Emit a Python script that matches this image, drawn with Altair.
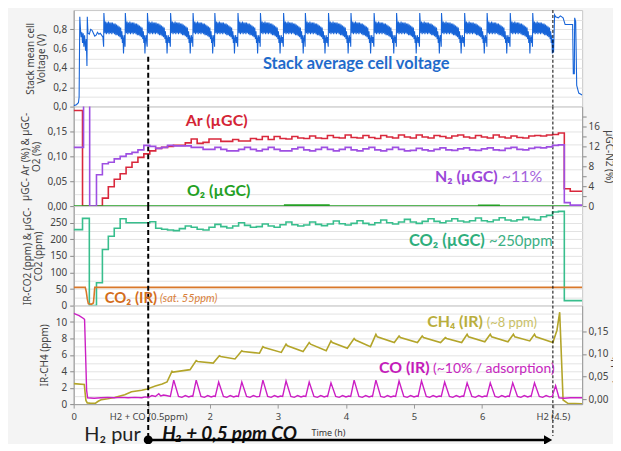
import altair as alt
import pandas as pd

T_MAX = 7.47
T_SWITCH = 1.095
T_BACK = 7.04
W = 511
H1, H2, H3, H4 = 97, 100, 100, 99

FONT = "Lato"
AXFONT = "Noto Sans"

# ---------------- data ----------------
# Stack mean cell voltage (V)
V_PRE_T = [0.0, 0.04, 0.07, 0.08, 0.09, 0.10, 0.11, 0.12, 0.13, 0.14, 0.15, 0.16, 0.175, 0.185,
           0.195, 0.20, 0.21, 0.23, 0.25, 0.27, 0.29, 0.31, 0.33, 0.35, 0.37, 0.39, 0.41, 0.43]
V_PRE_V = [0.01, 0.02, 0.04, 0.10, 0.93, 0.80, 0.72, 0.77, 0.66, 0.76, 0.62, 0.74, 0.58, 0.70,
           0.42, 0.93, 0.76, 0.75, 0.80, 0.79, 0.76, 0.73, 0.74, 0.77, 0.75, 0.76, 0.74, 0.72]
V_CYCLE_STARTS = [0.44, 0.755, 1.08, 1.42, 1.75, 2.07, 2.41, 2.74, 3.08, 3.40,
                  3.74, 4.07, 4.41, 4.74, 5.08, 5.40, 5.74, 6.07, 6.41, 6.74]
V_CYCLE_DT = [0.000, 0.004, 0.012, 0.020, 0.030, 0.040, 0.050, 0.060, 0.070, 0.080, 0.090,
              0.100, 0.110, 0.120, 0.130, 0.140, 0.150, 0.160, 0.170, 0.180, 0.190, 0.200,
              0.210, 0.220, 0.230, 0.240, 0.250, 0.260, 0.268, 0.276, 0.284, 0.292, 0.300,
              0.310, 0.318, 0.326]
V_CYCLE_V = [0.62, 0.97, 0.87, 0.76, 0.88, 0.75, 0.87, 0.76, 0.88, 0.75, 0.87,
             0.76, 0.87, 0.75, 0.87, 0.76, 0.86, 0.75, 0.86, 0.74, 0.85, 0.74,
             0.84, 0.73, 0.83, 0.72, 0.82, 0.70, 0.78, 0.66, 0.74, 0.55, 0.70,
             0.74, 0.66, 0.72]
V_END_T = [7.05, 7.065, 7.08, 7.12, 7.15, 7.19, 7.22, 7.33, 7.34, 7.355, 7.36, 7.375, 7.39, 7.42, 7.47]
V_END_V = [0.56, 0.95, 0.93, 0.92, 0.94, 0.92, 0.85, 0.85, 0.34, 0.34, 0.92, 0.88, 0.22, 0.14, 0.12]

# micro-GC samples (one every ~5 min)
GC_T0 = 0.335
GC_DT = 0.087
AR_PRE_T = [0.0, 0.13]
AR_PRE_V = [0.192, 0.0]
AR_GC = [0.0, 0.016, 0.039, 0.054, 0.065, 0.078, 0.088, 0.098, 0.105, 0.111,
         0.116, 0.118, 0.120, 0.122, 0.122, 0.127, 0.135, 0.126, 0.128, 0.135,
         0.135, 0.130, 0.130, 0.134, 0.131, 0.131, 0.136, 0.134, 0.140, 0.134,
         0.140, 0.136, 0.135, 0.140, 0.137, 0.136, 0.141, 0.137, 0.136, 0.142,
         0.138, 0.137, 0.143, 0.138, 0.137, 0.142, 0.138, 0.136, 0.142, 0.139,
         0.137, 0.143, 0.139, 0.137, 0.143, 0.139, 0.137, 0.142, 0.140, 0.137,
         0.141, 0.143, 0.139, 0.137, 0.142, 0.139, 0.137, 0.143, 0.139, 0.137,
         0.141, 0.138, 0.137, 0.141, 0.142, 0.141, 0.143, 0.144, 0.147, 0.035,
         0.030, 0.030]
N2_PRE_T = [0.0, 0.145, 0.235]
N2_PRE_V = [11.8, 30.0, 0.0]
N2_GC = [6.3, 8.5, 8.8, 9.5, 10.0, 10.5, 10.8, 11.3, 12.2, 12.0,
         11.6, 11.8, 12.2, 12.1, 12.1, 12.1, 11.8, 11.8, 11.4, 11.4,
         11.8, 11.4, 11.1, 11.1, 11.4, 11.8, 11.4, 11.1, 11.4, 11.8,
         11.4, 11.1, 11.1, 11.5, 11.8, 11.3, 11.1, 11.4, 11.8, 11.4,
         11.1, 11.4, 11.8, 11.3, 11.1, 11.5, 11.8, 11.3, 11.1, 11.4,
         11.8, 11.4, 11.1, 11.2, 11.6, 11.3, 11.1, 11.4, 11.7, 11.3,
         11.2, 11.5, 11.7, 11.3, 11.2, 11.5, 11.7, 11.3, 11.2, 11.6,
         11.8, 11.4, 11.3, 11.6, 11.8, 11.7, 11.9, 12.2, 12.3, 0.7,
         0.2, 0.2]
O2_T = [0.0, 3.05, 3.10, 3.70, 3.75, 5.90, 5.95, 6.20, 6.25, T_MAX]
O2_V = [0.0, 0.0, 0.002, 0.002, 0.0, 0.0, 0.0015, 0.0015, 0.0, 0.0]
CO2_PRE_T = [0.0, 0.13, 0.23]
CO2_PRE_V = [229, 263, 0]
CO2_GC = [69, 169, 209, 233, 262, 250, 250, 250, 250, 253,
          233, 230, 228, 226, 232, 240, 236, 230, 228, 236,
          245, 238, 234, 240, 250, 242, 236, 238, 246, 240,
          236, 244, 252, 244, 240, 243, 252, 245, 241, 246,
          255, 247, 243, 248, 256, 248, 244, 250, 258, 250,
          246, 252, 260, 252, 248, 254, 262, 254, 250, 255,
          262, 255, 252, 256, 264, 256, 253, 258, 265, 258,
          255, 259, 266, 260, 258, 268, 272, 282, 284, 15,
          15, 15]
# IR analyser
CO2IR_T = [0.0, 0.17, 0.185, 0.20, 0.215, 0.26, 0.29, 0.30, 0.31, T_MAX]
CO2IR_V = [55, 55, 42, 20, 6, 4, 8, 30, 55, 55]
CH4_T = [0.0, 0.156, 0.17, 0.18, 0.20, 0.25, 0.32, 0.36, 0.41, 0.50, 0.60, 0.75, 0.85, 1.00,
         1.08, 1.20, 1.30, 1.372, 1.445, 1.46, 1.71, 1.80, 1.82, 2.05, 2.14, 2.16, 2.37, 2.47,
         2.49, 2.73, 2.78, 2.80, 3.05, 3.12, 3.14, 3.37, 3.46, 3.48, 3.71, 3.78, 3.80, 4.02,
         4.12, 4.14, 4.36, 4.44, 4.46, 4.71, 4.78, 4.80, 5.05, 5.12, 5.14, 5.39, 5.46, 5.48,
         5.70, 5.78, 5.80, 6.04, 6.12, 6.14, 6.38, 6.46, 6.48, 6.70, 6.77, 6.79, 7.04, 7.10,
         7.14, 7.19, 7.26, 7.47]
CH4_V = [2.5, 2.4, 1.2, 0.45, 0.15, 0.10, 0.12, 0.35, 0.55, 0.65, 0.80, 1.15, 1.50, 1.70,
         1.85, 2.20, 2.45, 2.70, 4.00, 3.90, 4.20, 5.30, 5.20, 5.00, 5.90, 5.80, 5.50, 6.50,
         6.40, 6.20, 7.00, 6.90, 6.30, 7.30, 7.10, 6.40, 7.50, 7.30, 6.50, 7.70, 7.50, 6.80,
         8.00, 7.80, 7.00, 8.50, 8.20, 7.50, 8.30, 8.10, 7.50, 8.30, 8.10, 7.50, 8.10, 8.00,
         7.50, 8.50, 8.20, 7.60, 8.50, 8.20, 7.60, 8.50, 8.20, 7.70, 8.50, 8.20, 7.50, 9.00,
         11.2, 0.50, 0.10, 0.05]
CO_PRE_T = [0.0, 0.08, 0.15, 0.16, 0.175, 0.19, 0.205, 0.30, 0.40, 0.50, 0.60, 0.70, 0.80,
            0.90, 1.00, 1.05, 1.10, 1.15, 1.20, 1.25, 1.28, 1.32, 1.36]
CO_PRE_V = [0.190, 0.185, 0.178, 0.176, 0.100, 0.020, 0.003, 0.002, 0.003, 0.004, 0.003,
            0.004, 0.003, 0.004, 0.003, 0.005, 0.004, 0.008, 0.006, 0.012, 0.007, 0.009, 0.008]
CO_PEAK_T = [1.47, 1.80, 2.13, 2.47, 2.78, 3.12, 3.46, 3.78, 4.12,
             4.44, 4.78, 5.11, 5.45, 5.78, 6.12, 6.45, 6.77, 7.08]
CO_PEAK_V = [0.042, 0.042, 0.038, 0.038, 0.042, 0.040, 0.038, 0.036, 0.042,
             0.042, 0.040, 0.040, 0.038, 0.036, 0.036, 0.036, 0.036, 0.030]
CO_SHAPE_DT = [-0.05, 0.0, 0.07, 0.12, 0.17, 0.22, 0.26]
CO_SHAPE_BASE = [0.006, None, 0.006, 0.004, 0.008, 0.005, 0.007]
CO_END_T = [7.13, 7.20, 7.30, 7.47]
CO_END_V = [0.003, 0.002, 0.003, 0.003]

# ---------------- tables ----------------
def table(pairs):
    df = pd.DataFrame(pairs, columns=["t", "v"])
    df["i"] = range(len(df))
    return df


v_rows = list(zip(V_PRE_T, V_PRE_V))
for n, s in enumerate(V_CYCLE_STARTS):
    lim = V_CYCLE_STARTS[n + 1] if n + 1 < len(V_CYCLE_STARTS) else V_END_T[0]
    for dt, vv in zip(V_CYCLE_DT, V_CYCLE_V):
        if s + dt < lim - 1e-9:
            v_rows.append((s + dt, vv))
v_rows += list(zip(V_END_T, V_END_V))
df_v = table(v_rows)


def gc(pre_t, pre_v, vals):
    rows = list(zip(pre_t, pre_v))
    rows += [(GC_T0 + GC_DT * k, val) for k, val in enumerate(vals)]
    rows.append((T_MAX, vals[-1]))
    return table(rows)


df_ar = gc(AR_PRE_T, AR_PRE_V, AR_GC)
df_n2 = gc(N2_PRE_T, N2_PRE_V, N2_GC)
df_co2 = gc(CO2_PRE_T, CO2_PRE_V, CO2_GC)
df_o2 = table(list(zip(O2_T, O2_V)))
df_co2ir = table(list(zip(CO2IR_T, CO2IR_V)))
df_ch4 = table(list(zip(CH4_T, CH4_V)))

co_rows = list(zip(CO_PRE_T, CO_PRE_V))
for n, (tp, h) in enumerate(zip(CO_PEAK_T, CO_PEAK_V)):
    nxt = CO_PEAK_T[n + 1] - 0.05 if n + 1 < len(CO_PEAK_T) else CO_END_T[0]
    for dt, b in zip(CO_SHAPE_DT, CO_SHAPE_BASE):
        if tp + dt < nxt - 1e-9:
            co_rows.append((tp + dt, h if b is None else b))
co_rows += list(zip(CO_END_T, CO_END_V))
df_co = table(co_rows)

ONE = pd.DataFrame({"k": [0]})

# ---------------- styling helpers ----------------
XS = alt.Scale(domain=[0, T_MAX], nice=False, zero=False)

X_AXIS = alt.Axis(
    values=[0, T_SWITCH, 2, 3, 4, 5, 6, T_BACK],
    labelExpr=("abs(datum.value - 1.095) < 0.01 ? 'H2 + CO (0.5ppm)' : "
               "(abs(datum.value - 7.04) < 0.01 ? 'H2 (4.5)' : format(datum.value, 'd'))"),
    title="Time (h)", titleFont=AXFONT, titleFontSize=9, titleFontWeight="normal",
    titleColor="#333", titlePadding=8, labelFont=AXFONT, labelFontSize=9.5,
    labelColor="#444", labelOverlap=False, labelFlush=False, grid=False, tickSize=4,
    tickColor="#999", domainColor="#999", labelPadding=3)


def xf(axis=None):
    return alt.X("t:Q", scale=XS, axis=axis)


def xd(t, axis=None):
    return alt.X(datum=t, type="quantitative", scale=XS, axis=axis)


def laxis(title, vals, major, fmt):
    return alt.Axis(
        values=vals, title=title, labelExpr=f"({major}) ? {fmt} : ''",
        tickOpacity={"condition": {"test": major, "value": 1}, "value": 0},
        grid=True, gridColor="#E3E3E3", gridWidth=1, domainColor="#999", tickColor="#888",
        tickSize=4, labelPadding=3, labelFont=AXFONT, labelFontSize=10, labelColor="#444",
        titleFont=AXFONT, titleFontSize=10, titleFontWeight="normal", titleColor="#444",
        titlePadding=6, titleLineHeight=11)


def raxis(title, vals, fmt):
    return alt.Axis(
        orient="right", values=vals, title=title, labelExpr=fmt, grid=False,
        domainColor="#999", tickColor="#888", tickSize=4, labelPadding=2, labelFont=AXFONT,
        labelFontSize=10, labelColor="#444", titleFont=AXFONT, titleFontSize=10,
        titleFontWeight="normal", titleColor="#444", titlePadding=4)


COMMA1 = "replace(format(datum.value, '.1f'), '.', ',')"
COMMA2 = "replace(format(datum.value, '.2f'), '.', ',')"

AX1 = laxis(["Stack mean cell", "Voltage (V)"], [round(0.1 * k, 1) for k in range(10)],
            "round(datum.value * 10) % 2 == 0", COMMA1)
AX2 = laxis(["µGC- Ar (%) & µGC-", "O2 (%)"], [round(0.025 * k, 3) for k in range(8)],
            "round(datum.value * 1000) % 50 == 0", COMMA2)
AX3 = laxis(["IR-CO2 (ppm) & µGC-", "CO2 (ppm)"], [25 * k for k in range(12)],
            "datum.value % 50 == 0", "format(datum.value, 'd')")
AX4 = laxis("IR-CH4 (ppm)", list(range(12)), "datum.value % 2 == 0", "format(datum.value, 'd')")
AXN2 = raxis("µGC-N2 (%)", list(range(0, 20, 2)), "format(datum.value, 'd')")
AXCO = raxis("IR-CO (ppm)", [0, 0.05, 0.1, 0.15], COMMA2)


def line(df, color, ydom, axis, width=1.6, step=False, xaxis=None):
    kw = dict(color=color, strokeWidth=width, clip=True)
    if step:
        kw["interpolate"] = "step-after"
    return alt.Chart(df).mark_line(**kw).encode(
        x=xf(xaxis), y=alt.Y("v:Q", scale=alt.Scale(domain=ydom, nice=False, zero=False), axis=axis),
        order="i:Q")


def txt(s, t, ypx, color, size, weight="bold", style="normal", align="center", xaxis=None):
    return alt.Chart(ONE).mark_text(
        text=s, align=align, baseline="middle", font=FONT, fontSize=size,
        fontWeight=weight, fontStyle=style, color=color).encode(x=xd(t, xaxis), y=alt.value(ypx))


def vrule(t, y0, y1, w, dash, xaxis=None):
    return alt.Chart(ONE).mark_rule(color="black", strokeWidth=w, strokeDash=dash).encode(
        x=xd(t, xaxis), y=alt.value(y0), y2=alt.value(y1))


# ---------------- panels ----------------
p1 = alt.layer(
    line(df_v, "#1764D8", [0, 1.0], AX1, width=1.1),
    vrule(T_SWITCH, 47, H1, 2, [5, 3]),
    vrule(T_BACK, 0, H1, 1, [3, 2]),
    txt("Stack average cell voltage", 4.15, 54, "#1F6BCB", 16.5),
).properties(width=W, height=H1)

left2 = alt.layer(
    line(df_ar, "#D9283C", [0, 0.2], AX2, step=True),
    line(df_o2, "#23A023", [0, 0.2], AX2, step=True),
    vrule(T_SWITCH, 0, H2, 2, [5, 3]),
    vrule(T_BACK, 0, H2, 1, [3, 2]),
    txt("Ar (µGC)", 2.10, 15, "#D42435", 16),
    txt("N₂ (µGC)", 6.23, 71, "#9B47D8", 16, align="right"),
    txt("~11%", 6.29, 71, "#A463DB", 16, weight="normal", align="left"),
    txt("O₂ (µGC)", 2.13, 85, "#23A023", 16),
)
right2 = line(df_n2, "#9E4FE2", [0, 20], AXN2, step=True)
p2 = alt.layer(left2, right2).resolve_scale(y="independent").properties(width=W, height=H2)

p3 = alt.layer(
    line(df_co2, "#38BE8D", [0, 300], AX3, step=True),
    line(df_co2ir, "#D9782A", [0, 300], AX3),
    vrule(T_SWITCH, 0, H3, 2, [5, 3]),
    vrule(T_BACK, 0, H3, 1, [3, 2]),
    txt("CO₂ (µGC)", 6.04, 35, "#2EAE7C", 16.5, align="right"),
    txt("~250ppm", 6.10, 35, "#3BB084", 15, weight="normal", align="left"),
    txt("CO₂ (IR)", 1.226, 92, "#D46E1C", 15, align="right"),
    txt("(sat. 55ppm)", 1.27, 93, "#D9803A", 11, weight="normal", style="italic", align="left"),
).properties(width=W, height=H3)

XA = X_AXIS
ARROW_Y = 135
left4 = alt.layer(
    line(df_ch4, "#B3A52A", [0, 12], AX4, xaxis=XA),
    vrule(T_SWITCH, 0, ARROW_Y, 2, [5, 3], XA),
    vrule(T_BACK, 0, ARROW_Y - 4, 1, [3, 2], XA),
    txt("CH₄ (IR)", 6.01, 16, "#B9AE3C", 16, align="right", xaxis=XA),
    txt("(~8 ppm)", 6.07, 17, "#C9BF66", 13, weight="normal", align="left", xaxis=XA),
    txt("CO (IR)", 5.23, 63, "#C41CBA", 16, align="right", xaxis=XA),
    txt("(~10% / adsorption)", 5.28, 64, "#C627BE", 14, weight="normal", align="left", xaxis=XA),
    txt("H₂ pur", 0.57, 130, "#222222", 20, weight="normal", xaxis=XA),
    txt("H₂ + 0,5 ppm CO", 1.30, 129, "#111111", 19, style="italic", align="left", xaxis=XA),
    alt.Chart(ONE).mark_rule(color="black", strokeWidth=2.5).encode(
        x=xd(T_SWITCH, XA), x2=alt.X2(datum=6.93), y=alt.value(ARROW_Y)),
    alt.Chart(ONE).mark_point(shape="circle", filled=True, size=80, color="black", opacity=1).encode(
        x=xd(T_SWITCH, XA), y=alt.value(ARROW_Y)),
    alt.Chart(ONE).mark_point(shape="triangle-right", filled=True, size=90, color="black", opacity=1).encode(
        x=xd(6.97, XA), y=alt.value(ARROW_Y)),
)
right4 = line(df_co, "#CB1FC4", [-0.011, 0.207], AXCO, width=1.4, xaxis=XA)
p4 = alt.layer(left4, right4).resolve_scale(y="independent").properties(width=W, height=H4)

chart = alt.vconcat(p1, p2, p3, p4, spacing=0, bounds="flush").properties(
    background="#F4F4F4",
    padding={"left": 11, "right": -10, "top": 0, "bottom": -3},
).configure_view(stroke="#C8C8C8", fill="white")

chart.save("out.html", embed_options={"renderer": "svg", "actions": False})
